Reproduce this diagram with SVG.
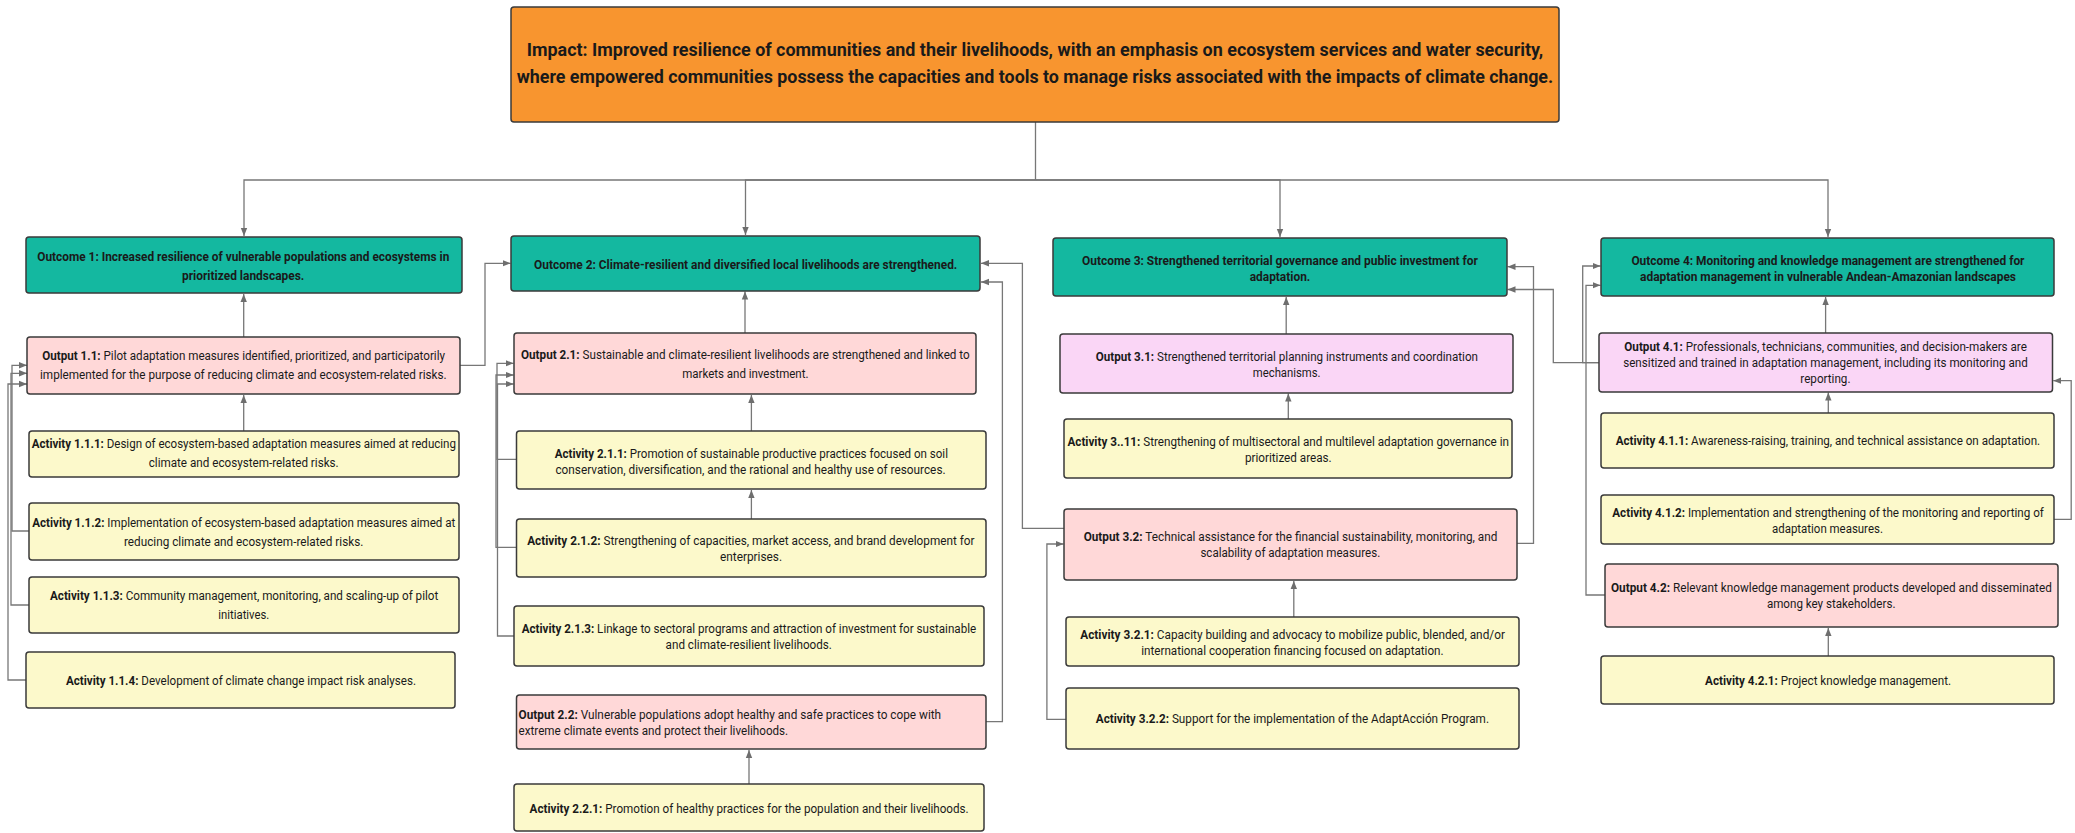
<svg xmlns="http://www.w3.org/2000/svg" width="2075" height="833" viewBox="0 0 2075 833">
<defs>
<marker id="ah" markerUnits="userSpaceOnUse" markerWidth="9" markerHeight="8" refX="8" refY="4" orient="auto">
<path d="M0,0.8 L8,4 L0,7.2 z" fill="#6e6e6e"/>
</marker>
<style>
.box{stroke:#3a3a3a;stroke-width:1.5}
.imp{fill:#F8952F}
.oc{fill:#14B8A0}
.op{fill:#FFD8D8}
.om{fill:#FAD6F6}
.ac{fill:#FCF9CB}
text{font-family:Roboto,"Liberation Sans",Arial,sans-serif;fill:#1a1a1a}
.t16{font-size:18px;font-weight:700}
.t13{font-size:13px;font-weight:700}
.b{font-size:12.5px}
.b tspan.k{font-weight:700}
.cn{fill:none;stroke:#777;stroke-width:1.3}
</style>
</defs>
<rect width="2075" height="833" fill="#ffffff"/>

<g id="connectors">
<path class="cn" d="M1035.5,122 V180 H244 V236" marker-end="url(#ah)"/>
<path class="cn" d="M1035.5,180 H745.5 V235" marker-end="url(#ah)"/>
<path class="cn" d="M1035.5,180 H1280 V237" marker-end="url(#ah)"/>
<path class="cn" d="M1035.5,180 H1828 V237" marker-end="url(#ah)"/>

<path class="cn" d="M243.7,337 V294" marker-end="url(#ah)"/>
<path class="cn" d="M243.7,431 V395" marker-end="url(#ah)"/>
<path class="cn" d="M29,531 H12 V365.3 H27" marker-end="url(#ah)"/>
<path class="cn" d="M29,605 H11 V373.3 H27" marker-end="url(#ah)"/>
<path class="cn" d="M26,680 H8 V384 H27" marker-end="url(#ah)"/>
<path class="cn" d="M460,365.3 H485 V263.3 H510.5" marker-end="url(#ah)"/>

<path class="cn" d="M745,333 V291.5" marker-end="url(#ah)"/>
<path class="cn" d="M751.4,431 V395" marker-end="url(#ah)"/>
<path class="cn" d="M751.4,519 V490" marker-end="url(#ah)"/>
<path class="cn" d="M516.5,459.3 H497 V363.3 H513.5" marker-end="url(#ah)"/>
<path class="cn" d="M516.5,547.3 H496 V375 H513.5" marker-end="url(#ah)"/>
<path class="cn" d="M514,636 H497.5 V384 H513.5" marker-end="url(#ah)"/>
<path class="cn" d="M986,721.7 H1002.4 V282 H981" marker-end="url(#ah)"/>
<path class="cn" d="M749,784 V750" marker-end="url(#ah)"/>
<path class="cn" d="M1064,528.3 H1022.4 V263.3 H981" marker-end="url(#ah)"/>

<path class="cn" d="M1286.2,334 V297" marker-end="url(#ah)"/>
<path class="cn" d="M1288.3,419 V393.5" marker-end="url(#ah)"/>
<path class="cn" d="M1517,543.3 H1533.5 V266.7 H1507.5" marker-end="url(#ah)"/>
<path class="cn" d="M1293.8,617 V581" marker-end="url(#ah)"/>
<path class="cn" d="M1066,719.3 H1046.9 V544 H1063.5" marker-end="url(#ah)"/>
<path class="cn" d="M1599,362.7 H1553.3 V289.5 H1507.5" marker-end="url(#ah)"/>

<path class="cn" d="M1825.6,333 V297" marker-end="url(#ah)"/>
<path class="cn" d="M1599,362.7 H1582.7 V266 H1600.5" marker-end="url(#ah)"/>
<path class="cn" d="M1605,595 H1586 V285.3 H1600.5" marker-end="url(#ah)"/>
<path class="cn" d="M1828.3,413 V392.5" marker-end="url(#ah)"/>
<path class="cn" d="M2054,519.3 H2071.2 V380.7 H2053.3" marker-end="url(#ah)"/>
<path class="cn" d="M1828.3,656 V628" marker-end="url(#ah)"/>
</g>

<g id="impact">
<rect class="box imp" x="511" y="7" width="1048" height="115" rx="3"/>
<text class="t16" x="526.7" y="56" textLength="1016.5" lengthAdjust="spacingAndGlyphs">Impact: Improved resilience of communities and their livelihoods, with an emphasis on ecosystem services and water security,</text>
<text class="t16" x="516.7" y="83" textLength="1036.5" lengthAdjust="spacingAndGlyphs">where empowered communities possess the capacities and tools to manage risks associated with the impacts of climate change.</text>
</g>

<g id="outcome1">
<rect class="box oc" x="26" y="237" width="436" height="56" rx="3"/>
<text class="t13" x="37.3" y="260.5" textLength="412" lengthAdjust="spacingAndGlyphs">Outcome 1: Increased resilience of vulnerable populations and ecosystems in</text>
<text class="t13" x="182" y="279.5" textLength="122.3" lengthAdjust="spacingAndGlyphs">prioritized landscapes.</text>
</g>
<g id="output11">
<rect class="box op" x="27" y="337" width="433" height="57" rx="3"/>
<text class="b" x="42.3" y="360" textLength="402.7" lengthAdjust="spacingAndGlyphs"><tspan class="k">Output 1.1:</tspan> Pilot adaptation measures identified, prioritized, and participatorily</text>
<text class="b" x="40" y="379" textLength="406.7" lengthAdjust="spacingAndGlyphs">implemented for the purpose of reducing climate and ecosystem-related risks.</text>
</g>
<g id="activity111">
<rect class="box ac" x="29" y="431" width="430" height="46" rx="3"/>
<text class="b" x="31.7" y="448" textLength="424.3" lengthAdjust="spacingAndGlyphs"><tspan class="k">Activity 1.1.1:</tspan> Design of ecosystem-based adaptation measures aimed at reducing</text>
<text class="b" x="148.7" y="467" textLength="190" lengthAdjust="spacingAndGlyphs">climate and ecosystem-related risks.</text>
</g>
<g id="activity112">
<rect class="box ac" x="29" y="503" width="430" height="57" rx="3"/>
<text class="b" x="32.3" y="527" textLength="423" lengthAdjust="spacingAndGlyphs"><tspan class="k">Activity 1.1.2:</tspan> Implementation of ecosystem-based adaptation measures aimed at</text>
<text class="b" x="124" y="546" textLength="239.3" lengthAdjust="spacingAndGlyphs">reducing climate and ecosystem-related risks.</text>
</g>
<g id="activity113">
<rect class="box ac" x="29" y="577" width="430" height="56" rx="3"/>
<text class="b" x="50" y="600" textLength="388.3" lengthAdjust="spacingAndGlyphs"><tspan class="k">Activity 1.1.3:</tspan> Community management, monitoring, and scaling-up of pilot</text>
<text class="b" x="218.3" y="619" textLength="51" lengthAdjust="spacingAndGlyphs">initiatives.</text>
</g>
<g id="activity114">
<rect class="box ac" x="26" y="652" width="429" height="56" rx="3"/>
<text class="b" x="66" y="685" textLength="350" lengthAdjust="spacingAndGlyphs"><tspan class="k">Activity 1.1.4:</tspan> Development of climate change impact risk analyses.</text>
</g>

<g id="outcome2">
<rect class="box oc" x="511" y="236" width="469" height="55" rx="3"/>
<text class="t13" x="534.1" y="268.5" textLength="423.2" lengthAdjust="spacingAndGlyphs">Outcome 2: Climate-resilient and diversified local livelihoods are strengthened.</text>
</g>
<g id="output21">
<rect class="box op" x="514" y="333" width="462" height="61" rx="3"/>
<text class="b" x="521" y="358.5" textLength="448.7" lengthAdjust="spacingAndGlyphs"><tspan class="k">Output 2.1:</tspan> Sustainable and climate-resilient livelihoods are strengthened and linked to</text>
<text class="b" x="682.2" y="377.5" textLength="126.3" lengthAdjust="spacingAndGlyphs">markets and investment.</text>
</g>
<g id="activity211">
<rect class="box ac" x="516.5" y="431" width="469.5" height="58" rx="3"/>
<text class="b" x="554.7" y="457.5" textLength="393.3" lengthAdjust="spacingAndGlyphs"><tspan class="k">Activity 2.1.1:</tspan> Promotion of sustainable productive practices focused on soil</text>
<text class="b" x="555.4" y="473.5" textLength="390.2" lengthAdjust="spacingAndGlyphs">conservation, diversification, and the rational and healthy use of resources.</text>
</g>
<g id="activity212">
<rect class="box ac" x="516.5" y="519" width="469.5" height="58" rx="3"/>
<text class="b" x="527.2" y="545" textLength="447.3" lengthAdjust="spacingAndGlyphs"><tspan class="k">Activity 2.1.2:</tspan> Strengthening of capacities, market access, and brand development for</text>
<text class="b" x="720" y="561" textLength="62" lengthAdjust="spacingAndGlyphs">enterprises.</text>
</g>
<g id="activity213">
<rect class="box ac" x="514" y="606" width="470" height="60" rx="3"/>
<text class="b" x="521.7" y="633" textLength="454.5" lengthAdjust="spacingAndGlyphs"><tspan class="k">Activity 2.1.3:</tspan> Linkage to sectoral programs and attraction of investment for sustainable</text>
<text class="b" x="665.6" y="649" textLength="166.3" lengthAdjust="spacingAndGlyphs">and climate-resilient livelihoods.</text>
</g>
<g id="output22">
<rect class="box op" x="516.5" y="695" width="469.5" height="54" rx="3"/>
<text class="b" x="518.6" y="719" textLength="422.5" lengthAdjust="spacingAndGlyphs"><tspan class="k">Output 2.2:</tspan> Vulnerable populations adopt healthy and safe practices to cope with</text>
<text class="b" x="518.6" y="735" textLength="269.6" lengthAdjust="spacingAndGlyphs">extreme climate events and protect their livelihoods.</text>
</g>
<g id="activity221">
<rect class="box ac" x="514" y="784" width="470" height="47" rx="3"/>
<text class="b" x="529.6" y="813" textLength="439.1" lengthAdjust="spacingAndGlyphs"><tspan class="k">Activity 2.2.1:</tspan> Promotion of healthy practices for the population and their livelihoods.</text>
</g>

<g id="outcome3">
<rect class="box oc" x="1053" y="238" width="454" height="58" rx="3"/>
<text class="t13" x="1082" y="264.5" textLength="396" lengthAdjust="spacingAndGlyphs">Outcome 3: Strengthened territorial governance and public investment for</text>
<text class="t13" x="1249.7" y="280.5" textLength="60.6" lengthAdjust="spacingAndGlyphs">adaptation.</text>
</g>
<g id="output31">
<rect class="box om" x="1060" y="334" width="453" height="59" rx="3"/>
<text class="b" x="1095.8" y="361" textLength="382.2" lengthAdjust="spacingAndGlyphs"><tspan class="k">Output 3.1:</tspan> Strengthened territorial planning instruments and coordination</text>
<text class="b" x="1252.8" y="377" textLength="67.8" lengthAdjust="spacingAndGlyphs">mechanisms.</text>
</g>
<g id="activity311">
<rect class="box ac" x="1064" y="419" width="448" height="59" rx="3"/>
<text class="b" x="1067.5" y="446" textLength="441.5" lengthAdjust="spacingAndGlyphs"><tspan class="k">Activity 3..11:</tspan> Strengthening of multisectoral and multilevel adaptation governance in</text>
<text class="b" x="1244.9" y="462" textLength="86.8" lengthAdjust="spacingAndGlyphs">prioritized areas.</text>
</g>
<g id="output32">
<rect class="box op" x="1064" y="509" width="453" height="71" rx="3"/>
<text class="b" x="1083.7" y="541" textLength="413.6" lengthAdjust="spacingAndGlyphs"><tspan class="k">Output 3.2:</tspan> Technical assistance for the financial sustainability, monitoring, and</text>
<text class="b" x="1200.4" y="557" textLength="179.8" lengthAdjust="spacingAndGlyphs">scalability of adaptation measures.</text>
</g>
<g id="activity321">
<rect class="box ac" x="1066" y="617" width="453" height="49" rx="3"/>
<text class="b" x="1080.3" y="638.5" textLength="424.6" lengthAdjust="spacingAndGlyphs"><tspan class="k">Activity 3.2.1:</tspan> Capacity building and advocacy to mobilize public, blended, and/or</text>
<text class="b" x="1141.2" y="654.5" textLength="302.4" lengthAdjust="spacingAndGlyphs">international cooperation financing focused on adaptation.</text>
</g>
<g id="activity322">
<rect class="box ac" x="1066" y="688" width="453" height="61" rx="3"/>
<text class="b" x="1095.8" y="722.5" textLength="393.2" lengthAdjust="spacingAndGlyphs"><tspan class="k">Activity 3.2.2:</tspan> Support for the implementation of the AdaptAcción Program.</text>
</g>

<g id="outcome4">
<rect class="box oc" x="1601" y="238" width="453" height="58" rx="3"/>
<text class="t13" x="1631.4" y="264.5" textLength="393.1" lengthAdjust="spacingAndGlyphs">Outcome 4: Monitoring and knowledge management are strengthened for</text>
<text class="t13" x="1640" y="280.5" textLength="376" lengthAdjust="spacingAndGlyphs">adaptation management in vulnerable Andean-Amazonian landscapes</text>
</g>
<g id="output41">
<rect class="box om" x="1599" y="333" width="453.5" height="59" rx="3"/>
<text class="b" x="1624.3" y="351" textLength="402.6" lengthAdjust="spacingAndGlyphs"><tspan class="k">Output 4.1:</tspan> Professionals, technicians, communities, and decision-makers are</text>
<text class="b" x="1623.2" y="367" textLength="404.6" lengthAdjust="spacingAndGlyphs">sensitized and trained in adaptation management, including its monitoring and</text>
<text class="b" x="1800.3" y="383" textLength="50.2" lengthAdjust="spacingAndGlyphs">reporting.</text>
</g>
<g id="activity411">
<rect class="box ac" x="1601" y="413" width="453" height="55" rx="3"/>
<text class="b" x="1615.7" y="445" textLength="424.5" lengthAdjust="spacingAndGlyphs"><tspan class="k">Activity 4.1.1:</tspan> Awareness-raising, training, and technical assistance on adaptation.</text>
</g>
<g id="activity412">
<rect class="box ac" x="1601" y="495" width="453" height="49" rx="3"/>
<text class="b" x="1612.3" y="517" textLength="431.6" lengthAdjust="spacingAndGlyphs"><tspan class="k">Activity 4.1.2:</tspan> Implementation and strengthening of the monitoring and reporting of</text>
<text class="b" x="1772" y="532.5" textLength="110.9" lengthAdjust="spacingAndGlyphs">adaptation measures.</text>
</g>
<g id="output42">
<rect class="box op" x="1605" y="564" width="453" height="63" rx="3"/>
<text class="b" x="1611" y="592" textLength="440.8" lengthAdjust="spacingAndGlyphs"><tspan class="k">Output 4.2:</tspan> Relevant knowledge management products developed and disseminated</text>
<text class="b" x="1766.9" y="607.5" textLength="128.6" lengthAdjust="spacingAndGlyphs">among key stakeholders.</text>
</g>
<g id="activity421">
<rect class="box ac" x="1601" y="656" width="453" height="48" rx="3"/>
<text class="b" x="1705.1" y="684.5" textLength="246" lengthAdjust="spacingAndGlyphs"><tspan class="k">Activity 4.2.1:</tspan> Project knowledge management.</text>
</g>
</svg>
